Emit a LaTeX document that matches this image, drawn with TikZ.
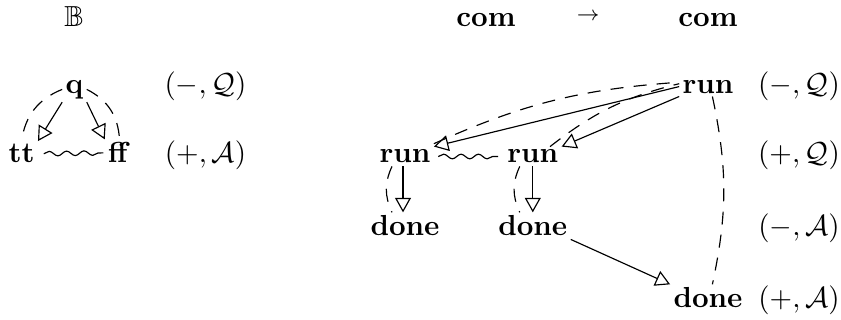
\documentclass[tikz,border=0pt]{standalone}
\usepackage{amssymb}
\usetikzlibrary{arrows.meta,decorations.pathmorphing}
\tikzset{
  ev/.style={inner sep=1pt,anchor=base},
  caus/.style={-{Triangle[open,length=5pt,width=5.5pt]}},
  just/.style={dash pattern=on 4.5pt off 3.5pt},
  confl/.style={decorate,decoration={snake,amplitude=0.8pt,segment length=6pt}}
}
\begin{document}
\begin{tikzpicture}
  \useasboundingbox (0,0) rectangle (10.197,3.880);
  % booleans
  \node[ev] (bb) at (0.897,3.553) {$\mathbb{B}$};
  \node[ev] (q) at (0.903,2.752) {$\mathbf{q}$};
  \node[ev] (tt) at (0.261,1.904) {$\mathbf{tt}$};
  \node[ev] (ff) at (1.449,1.904) {$\mathbf{ff}$};
  \node[ev] (lq) at (2.492,2.752) {$(-,\mathcal{Q})$};
  \node[ev] (la) at (2.492,1.904) {$(+,\mathcal{A})$};
  \draw[caus] (q.south west) -- (tt.north east);
  \draw[caus] (q.south east) -- (ff.north west);
  \draw[just] (q.west) to[bend right=30] (tt.north);
  \draw[just] (q.east) to[bend left=30] (ff.north);
  \draw[confl] ([xshift=2pt]tt.east) -- ([xshift=-0.5pt]ff.west);
  % commands
  \node[ev] (coml) at (5.893,3.553) {$\mathbf{com}$};
  \node (to) at (7.130,3.674) {$\scriptstyle\to$};
  \node[ev] (comr) at (8.585,3.553) {$\mathbf{com}$};
  \node[ev] (topr) at (8.585,2.752) {$\mathbf{run}$};
  \node[ev] (runl) at (4.911,1.904) {$\mathbf{run}$};
  \node[ev] (runm) at (6.460,1.904) {$\mathbf{run}$};
  \node[ev] (donel) at (4.911,1.019) {$\mathbf{done}$};
  \node[ev] (donem) at (6.460,1.019) {$\mathbf{done}$};
  \node[ev] (doneb) at (8.585,0.146) {$\mathbf{done}$};
  \node[ev] (rq1) at (9.688,2.752) {$(-,\mathcal{Q})$};
  \node[ev] (rq2) at (9.688,1.904) {$(+,\mathcal{Q})$};
  \node[ev] (ra1) at (9.688,1.019) {$(-,\mathcal{A})$};
  \node[ev] (ra2) at (9.688,0.146) {$(+,\mathcal{A})$};
  \draw[caus] (topr.west) -- (runl.north east);
  \draw[caus] (topr.south west) -- (runm.north east);
  \draw[just] ([yshift=1pt]runl.north east) to[bend left=10] ([yshift=1.5pt]topr.west);
  \draw[just] ([xshift=-4pt]runm.north east) to[bend left=12] ([yshift=1pt]topr.west);
  \draw[confl] ([xshift=1.5pt]runl.east) -- ([xshift=-2pt]runm.west);
  \draw[caus] ([xshift=-0.7pt]runl.south) -- ([xshift=-0.7pt]donel.north);
  \draw[caus] (runm) -- (donem);
  \draw[just] ([xshift=-4.5pt]runl.south) to[bend right=25] ([xshift=-4.5pt]donel.north);
  \draw[just] ([xshift=-4.5pt]runm.south) to[bend right=25] ([xshift=-4.5pt]donem.north);
  \draw[caus] (donem.south east) -- (doneb.north west);
  \draw[just] ([xshift=1.5pt]topr.south) to[bend left=12] ([xshift=1.5pt]doneb.north);
\end{tikzpicture}
\end{document}
